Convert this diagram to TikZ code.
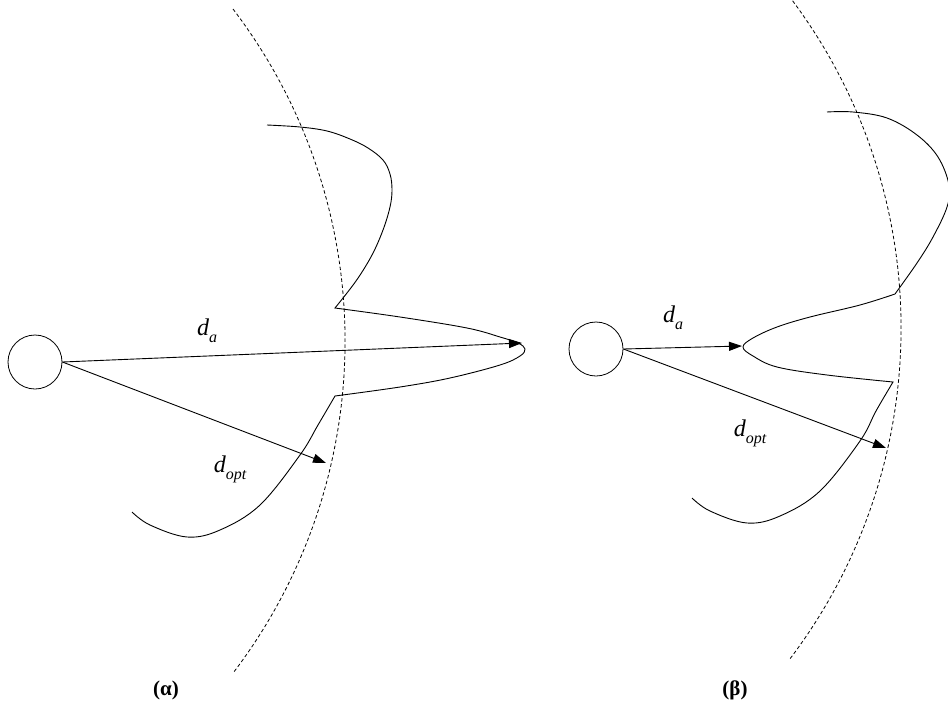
\documentclass[tikz,border=0pt]{standalone}
\usepackage{fontspec}
\setmainfont{Liberation Serif}
\usetikzlibrary{arrows.meta}
\tikzset{
  src/.style={circle, draw, line width=0.8pt, minimum size=54pt, inner sep=0pt},
  arr/.style={-{Triangle[length=13pt,width=9pt]}, line width=0.9pt},
  front/.style={line width=0.9pt, line join=miter},
  reach/.style={line width=0.8pt, dash pattern=on 3.5pt off 2.5pt},
  lbl/.style={font=\fontsize{24}{28}\selectfont\itshape, inner sep=0pt},
  tag/.style={font=\fontsize{21}{24}\selectfont\bfseries, inner sep=0pt},
}
\newcommand{\dlab}[1]{d\raisebox{-7pt}{\fontsize{16}{16}\selectfont #1}}

\begin{document}
\begin{tikzpicture}[x=1pt, y=-1pt]
  \useasboundingbox (0,0) rectangle (948,710);
  \clip (0,0) rectangle (948,710);
  %% (a): far target
  \node[src] (s1) at (35,362) {};
  \coordinate (a1) at (522,343);
  \coordinate (o1) at (326,463);
  \draw[reach] (233,9) arc[start angle=-37.3, end angle=37.3, radius=548];
  \draw[front] plot[smooth, tension=0.6] coordinates {(267,125) (300,127) (327,131)
      (350,139) (368,148) (383,160) (390,174) (392,190) (390,207) (383,230)
      (372,255) (356,281) (335,308)}
    -- plot[smooth, tension=0.6] coordinates {(335,308) (400,317) (467,328)
      (500,337) (518,343) (525,349) (520,356) (500,365) (450,378) (400,387)
      (335,396)}
    -- plot[smooth, tension=0.6] coordinates {(335,396) (318,425) (300,455)
      (260,505) (220,530) (187,537) (150,525) (132,512)};
  \draw[arr] (s1.east) -- (a1);
  \draw[arr] (s1.east) -- (o1);
  \node[lbl] (la1) at (207,331) {\dlab{a}};
  \node[lbl] (lo1) at (230,469) {\dlab{opt}};
  \node[tag] (t1) at (166,690) {(α)};
  %% (b): near target
  \node[src] (s2) at (596,349) {};
  \coordinate (a2) at (742,346);
  \coordinate (o2) at (886,448);
  \draw[reach] (789,-4) arc[start angle=-37.3, end angle=37.3, radius=548];
  \draw[front] plot[smooth, tension=0.6] coordinates {(827,112) (853,112) (887,118)
      (917,135) (938,157) (949,185) (947,207) (933,237) (917,263) (895,294)}
    -- plot[smooth, tension=0.6] coordinates {(895,294) (860,305) (810,317)
      (777,327) (753,338) (743,347) (753,356) (777,367) (827,375) (893,382)}
    -- plot[smooth, tension=0.6] coordinates {(893,382) (876,411) (860,441)
      (820,491) (780,516) (747,523) (710,511) (692,498)};
  \draw[arr] (s2.east) -- (a2);
  \draw[arr] (s2.east) -- (o2);
  \node[lbl] (la2) at (673,318) {\dlab{a}};
  \node[lbl] (lo2) at (750,433) {\dlab{opt}};
  \node[tag] (t2) at (735,690) {(β)};
\end{tikzpicture}
\end{document}
